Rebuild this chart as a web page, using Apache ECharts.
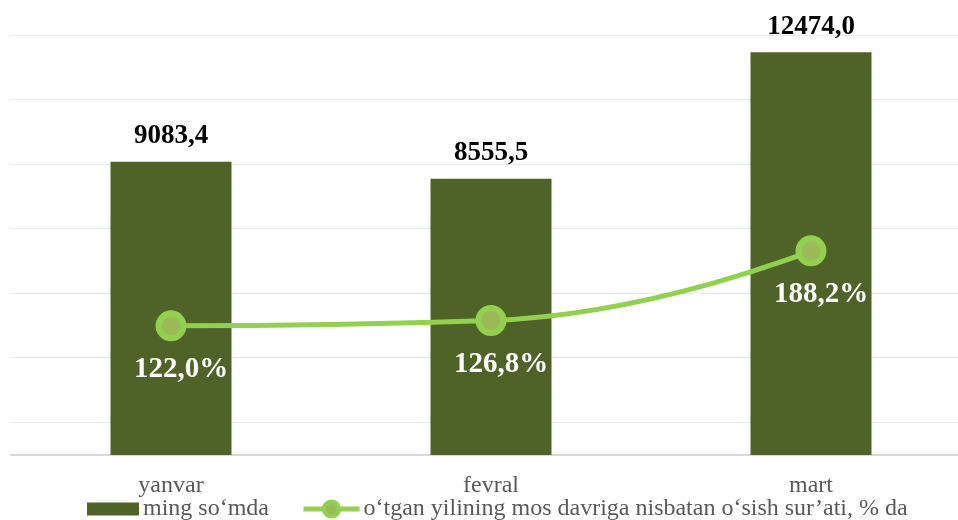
<!DOCTYPE html>
<html>
<head>
<meta charset="utf-8">
<script src="https://cdn.jsdelivr.net/npm/echarts@6/dist/echarts.min.js"></script>
<style>
  html, body { margin: 0; padding: 0; background: #fff; }
  #chart { width: 958px; height: 520px; }
</style>
</head>
<body>
<div id="chart"></div>
<script>
const months = ['yanvar', 'fevral', 'mart'];
const amounts = [9083.4, 8555.5, 12474.0];
const growth = [122.0, 126.8, 188.2];
const seriesNames = ['ming so‘mda', 'o‘tgan yilining mos davriga nisbatan o‘sish sur’ati, % da'];

const serif = '"Liberation Serif", "Times New Roman", serif';

function comma(v) {
  return v.toFixed(1).replace('.', ',');
}

const chart = echarts.init(document.getElementById('chart'), null, { renderer: 'canvas' });

const legendText = { color: '#595959', fontFamily: serif, fontSize: 24, padding: [0, 0, 0, -1] };

const option = {
  animation: false,
  backgroundColor: '#fff',
  grid: [
    { left: 11, width: 960, top: 3, height: 452, outerBoundsMode: 'none' },
    { left: 10, right: 0, top: 35, height: 387, outerBoundsMode: 'none' }
  ],
  xAxis: [
    {
      type: 'category',
      gridIndex: 0,
      data: months,
      axisTick: { show: false },
      axisLine: { lineStyle: { color: '#d9d9d9', width: 2 } },
      axisLabel: {
        color: '#595959',
        fontFamily: serif,
        fontSize: 24,
        margin: 19
      }
    },
    { type: 'value', gridIndex: 1, show: false, min: 0, max: 1 }
  ],
  yAxis: [
    { type: 'value', gridIndex: 0, min: 0, max: 14000, show: false },
    { type: 'value', gridIndex: 0, min: 8, max: 407, show: false },
    {
      type: 'value',
      gridIndex: 1,
      min: 0,
      max: 6,
      interval: 1,
      axisLine: { show: false },
      axisTick: { show: false },
      axisLabel: { show: false },
      splitLine: { show: true, lineStyle: { color: '#e6eaf1', width: 1 } }
    }
  ],
  legend: [
    {
      left: 87,
      top: 497,
      padding: 0,
      icon: 'rect',
      itemWidth: 52,
      itemHeight: 13,
      itemGap: 0,
      textStyle: legendText,
      data: [seriesNames[0]]
    },
    {
      left: 301,
      top: 497,
      padding: 0,
      itemWidth: 56,
      itemHeight: 19,
      itemGap: 0,
      textStyle: legendText,
      lineStyle: { width: 5 },
      itemStyle: { borderWidth: 4 },
      data: [seriesNames[1]]
    }
  ],
  series: [
    {
      name: seriesNames[0],
      type: 'bar',
      xAxisIndex: 0,
      yAxisIndex: 0,
      data: amounts,
      barWidth: 121,
      itemStyle: { color: '#4f6228' },
      label: {
        show: true,
        position: 'top',
        distance: 12,
        color: '#000',
        fontFamily: serif,
        fontWeight: 'bold',
        fontSize: 27,
        formatter: p => comma(p.value)
      }
    },
    {
      name: seriesNames[1],
      type: 'line',
      xAxisIndex: 0,
      yAxisIndex: 1,
      data: growth,
      smooth: 0.5,
      z: 5,
      symbol: 'circle',
      symbolSize: 25,
      lineStyle: { color: '#92d050', width: 5 },
      itemStyle: { color: '#9bbb59', borderColor: '#92d050', borderWidth: 6 },
      label: {
        show: true,
        position: 'bottom',
        distance: 14,
        offset: [10, 0],
        color: '#fff',
        fontFamily: serif,
        fontWeight: 'bold',
        fontSize: 29,
        formatter: p => comma(p.value) + '%'
      }
    }
  ]
};

chart.setOption(option);
</script>
</body>
</html>
